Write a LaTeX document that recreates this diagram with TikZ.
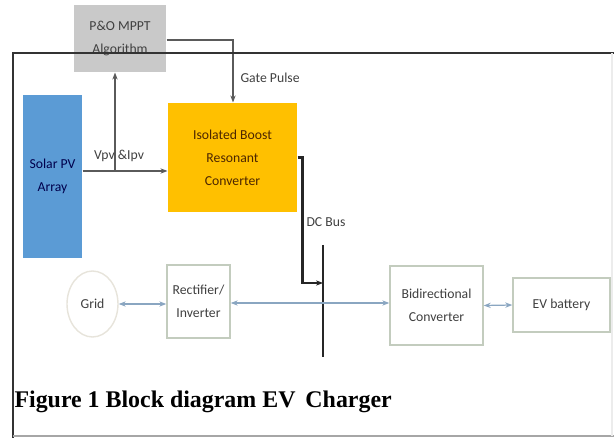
\documentclass[tikz,border=0pt]{standalone}
\usepackage{fontspec}
\setmainfont{Liberation Serif}
\newfontfamily\boxfont{Carlito}
\usetikzlibrary{arrows.meta,shapes.geometric}
\definecolor{pvblue}{HTML}{5B9BD5}
\definecolor{boostamber}{HTML}{FFC000}
\definecolor{mpptgray}{HTML}{C9C9C9}
\definecolor{blockedge}{HTML}{C3CCBE}
\definecolor{linkblue}{HTML}{8AA6C1}
\definecolor{wiregray}{HTML}{5A5A5A}

\begin{document}
\begin{tikzpicture}[x=0.02cm,y=-0.02cm,line width=0.6pt,
  lbl/.style={font=\boxfont\fontsize{7.8}{13}\selectfont,text=black!75,align=center,inner sep=0pt},
  block/.style={lbl,draw=blockedge,line width=0.8pt,fill=white},
  link/.style={linkblue,line width=0.7pt,{Stealth[length=4pt]}-{Stealth[length=4pt]}},
  wire/.style={wiregray,line width=0.7pt,-{Stealth[length=4pt]}},
  bus/.style={black!85,line width=1.4pt}]
\useasboundingbox (0,0) rectangle (614,438);
\node[lbl,fill=mpptgray,minimum width=1.84cm,minimum height=1.34cm] (mppt) at (120,38.5) {P\&O MPPT\\Algorithm};
\node[lbl,fill=pvblue,text=blue!30!black,minimum width=1.18cm,minimum height=3.26cm] (solar) at (52.5,176.5) {Solar PV\\Array};
\node[lbl,fill=boostamber,text=black!70!orange,minimum width=2.58cm,minimum height=2.18cm] (boost) at (232.5,157.5) {Isolated Boost\\Resonant\\Converter};
\node[block,ellipse,draw=blockedge!80!brown!40,minimum width=1.02cm,minimum height=1.32cm] (grid) at (92.5,304) {Grid};
\node[block,minimum width=1.26cm,minimum height=1.46cm] (rect) at (198.5,301.5) {Rectifier/\\Inverter};
\node[block,minimum width=1.86cm,minimum height=1.58cm] (bidir) at (436.5,305.5) {Bidirectional\\Converter};
\node[block,minimum width=1.94cm,minimum height=1.08cm] (ev) at (561.5,305) {EV battery};
\coordinate (vtap) at (115,171);
\coordinate (gtap) at (233,40);
\coordinate (bustop) at (323,245);
\coordinate (busbot) at (323,357);
\coordinate (busin) at (323,283);
\coordinate (busjn) at (323,303);
\draw[wire] (solar.east |- vtap) -- (boost.west |- vtap);
\draw[wire] (vtap) -- (mppt.south -| vtap);
\draw[wire] (mppt.east |- gtap) -- (gtap) -- (boost.north -| gtap);
\draw[bus] (bustop) -- (busbot);
\draw[bus,-{Stealth[length=4pt]}] (boost.east) -- ++(5,0) |- (busin);
\draw[link] (grid.east) -- (rect.west |- grid.east);
\draw[link] (rect.east |- busjn) -- (bidir.west |- busjn);
\draw[link] (bidir.east) -- (ev.west);
\node[lbl] (vilabel) at (119,156) {Vpv \&Ipv};
\node[lbl,anchor=west] (gatelabel) at (240,78) {Gate Pulse};
\node[lbl,anchor=west] (buslabel) at (306,222) {DC Bus};
\draw[black!80,line width=1.2pt] (13,438) -- (13,53) -- (614,53);
\draw[gray!70,line width=1pt] (13,436) -- (614,436);
\draw[gray!15,line width=0.8pt] (612,53) -- (612,436);
\node[anchor=west,inner sep=0pt,font=\bfseries\fontsize{13.6}{16}\selectfont] (caption) at (14,402) {Figure 1 Block diagram EV\, Charger};
\end{tikzpicture}
\end{document}
